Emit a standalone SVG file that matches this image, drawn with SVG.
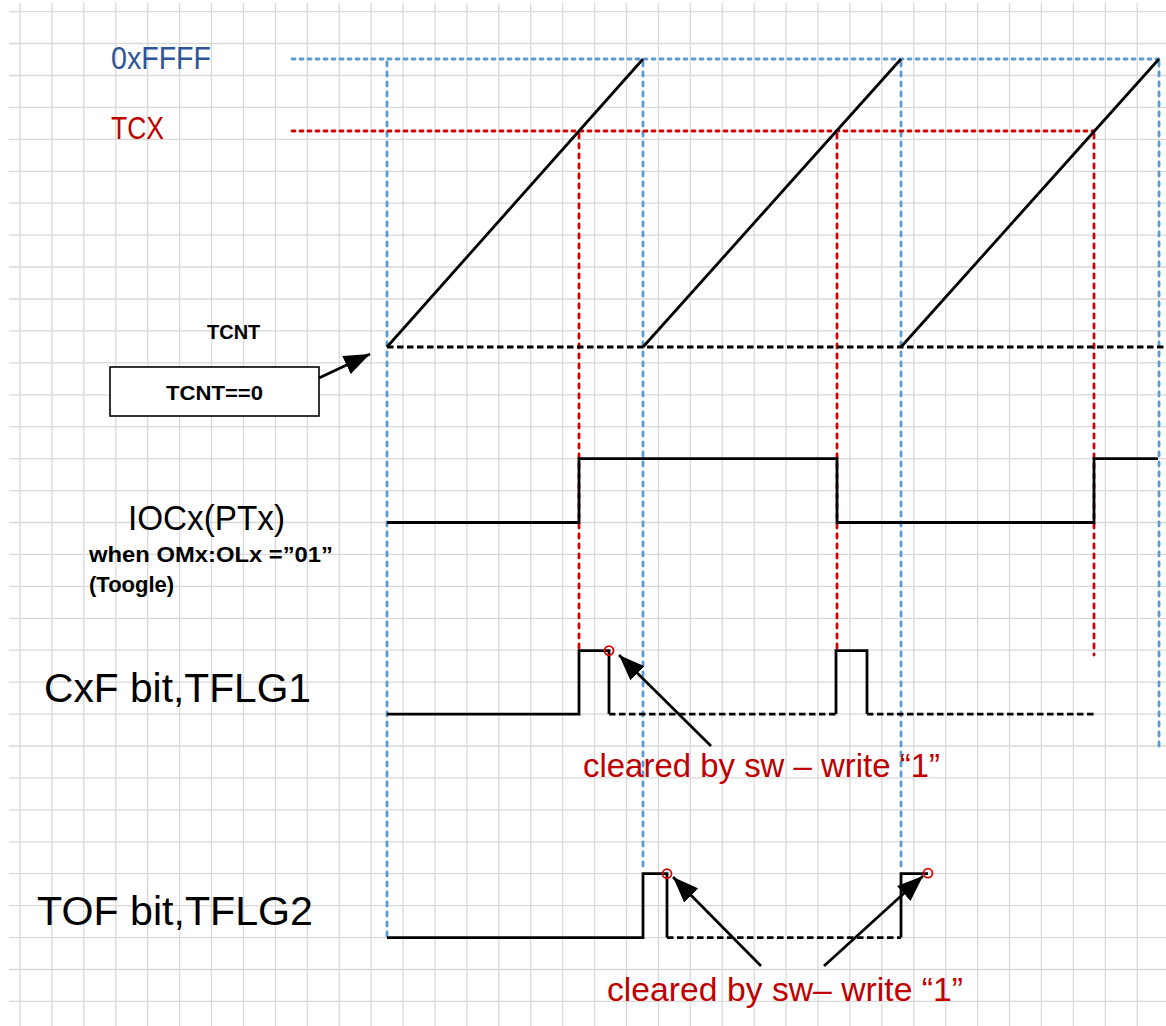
<svg xmlns="http://www.w3.org/2000/svg" width="1166" height="1026" viewBox="0 0 1166 1026">
<style>
.grid{stroke:#d9d9d9;stroke-width:1.3;fill:none}
.blueh{stroke:#5b9bd5;stroke-width:2.8;stroke-dasharray:3 5;stroke-linecap:round;fill:none}
.bluev{stroke:#5b9bd5;stroke-width:2.8;stroke-dasharray:4 6;stroke-linecap:round;fill:none}
.redh{stroke:#d40000;stroke-width:2.8;stroke-dasharray:3 5;stroke-linecap:round;fill:none}
.redv{stroke:#d40000;stroke-width:2.8;stroke-dasharray:4 6;stroke-linecap:round;fill:none}
.sig{stroke:#000;stroke-width:2.8;fill:none;stroke-linejoin:miter}
.dash{stroke:#000;stroke-width:2.8;stroke-dasharray:6.5 3.5;fill:none}
.arr{stroke:#000;stroke-width:2.7;fill:none;marker-end:url(#ah)}
.circ{stroke:#e00000;stroke-width:1.8;fill:none}
text{font-family:"Liberation Sans",Arial,sans-serif}
.b{font-weight:bold;fill:#000}
.red{fill:#c00000}
</style>
<defs>
<marker id="ah" markerUnits="userSpaceOnUse" markerWidth="28" markerHeight="22" refX="26" refY="10" orient="auto">
<path d="M0,0 L26,10 L0,20 z" fill="#000"/>
</marker>
</defs>
<rect width="1166" height="1026" fill="#fff"/>
<g id="grid" class="grid">
<path d="M20,3V1026M51.9,3V1026M83.8,3V1026M115.8,3V1026M147.7,3V1026M179.6,3V1026M211.5,3V1026M243.4,3V1026M275.4,3V1026M307.3,3V1026M339.2,3V1026M371.1,3V1026M403,3V1026M435,3V1026M466.9,3V1026M498.8,3V1026M530.7,3V1026M562.6,3V1026M594.6,3V1026M626.5,3V1026M658.4,3V1026M690.3,3V1026M722.2,3V1026M754.2,3V1026M786.1,3V1026M818,3V1026M849.9,3V1026M881.8,3V1026M913.8,3V1026M945.7,3V1026M977.6,3V1026M1009.5,3V1026M1041.4,3V1026M1073.4,3V1026M1105.3,3V1026M1137.2,3V1026"/>
<path d="M9,11.6H1166M9,43.5H1166M9,75.5H1166M9,107.4H1166M9,139.3H1166M9,171.3H1166M9,203.2H1166M9,235.1H1166M9,267H1166M9,299H1166M9,330.9H1166M9,362.8H1166M9,394.8H1166M9,426.7H1166M9,458.6H1166M9,490.6H1166M9,522.5H1166M9,554.4H1166M9,586.3H1166M9,618.3H1166M9,650.2H1166M9,682.1H1166M9,714.1H1166M9,746H1166M9,777.9H1166M9,809.9H1166M9,841.8H1166M9,873.7H1166M9,905.6H1166M9,937.6H1166M9,969.5H1166M9,1001.4H1166"/>
</g>
<g id="guides">
<path class="blueh" d="M292,59H1161"/>
<path class="bluev" d="M387,62V940M643,62V870M901,62V870M1159,62V750"/>
<path class="redh" d="M292,131H1094"/>
<path class="redv" d="M579,134V648M837,134V648M1094,134V655"/>
</g>
<g id="tcnt-signal">
<path class="dash" d="M387,347H1166"/>
<path class="sig" d="M387,347L643,59M643,347L901,59M901,347L1159,59"/>
</g>
<g id="ioc-signal">
<path class="sig" d="M387,522.5H579V458.6H837V522.5H1094V458.6H1158"/>
</g>
<g id="cxf-signal">
<path class="sig" d="M387,714.1H579V650.6H609V714.1"/>
<path class="dash" d="M609,714.1H836"/>
<path class="sig" d="M836,714.1V650.6H867V714.1"/>
<path class="dash" d="M867,714.1H1097"/>
<circle class="circ" cx="609" cy="650.6" r="4.5"/>
</g>
<g id="tof-signal">
<path class="sig" d="M387,937.6H643V873.7H667V937.6"/>
<path class="dash" d="M667,937.6H901"/>
<path class="sig" d="M901,937.6V873.7H928"/>
<circle class="circ" cx="667" cy="873.7" r="4.5"/>
<circle class="circ" cx="928" cy="873.2" r="4.5"/>
</g>
<g id="labels">
<text x="111" y="69" font-size="31" fill="#2e5597" textLength="100" lengthAdjust="spacingAndGlyphs">0xFFFF</text>
<text x="111" y="139" font-size="31" class="red" textLength="53" lengthAdjust="spacingAndGlyphs">TCX</text>
<text x="207" y="339" font-size="20" class="b">TCNT</text>
<text x="128" y="530" font-size="35" textLength="157" lengthAdjust="spacingAndGlyphs">IOCx(PTx)</text>
<text x="89" y="562" font-size="22" class="b" textLength="244" lengthAdjust="spacingAndGlyphs">when OMx:OLx =”01”</text>
<text x="89" y="592" font-size="22" class="b">(Toogle)</text>
<text x="44" y="702" font-size="40" textLength="267" lengthAdjust="spacingAndGlyphs">CxF bit,TFLG1</text>
<text x="37" y="925" font-size="40" textLength="276" lengthAdjust="spacingAndGlyphs">TOF bit,TFLG2</text>
<text x="583" y="777" font-size="33" class="red" textLength="357" lengthAdjust="spacingAndGlyphs">cleared by sw – write “1”</text>
<text x="607" y="1001" font-size="33" class="red" textLength="356" lengthAdjust="spacingAndGlyphs">cleared by sw– write “1”</text>
</g>
<g id="node-tcnt0">
<rect x="110" y="367" width="209" height="49" fill="#fff" stroke="#000" stroke-width="1.6"/>
<text x="214.5" y="400" font-size="21" class="b" text-anchor="middle" textLength="97" lengthAdjust="spacingAndGlyphs">TCNT==0</text>
</g>
<g id="connectors">
<path class="arr" d="M319,378L370,354"/>
<path class="arr" d="M711,746L619,655"/>
<path class="arr" d="M761,966L673,877"/>
<path class="arr" d="M824,966L923,876"/>
</g>
</svg>
